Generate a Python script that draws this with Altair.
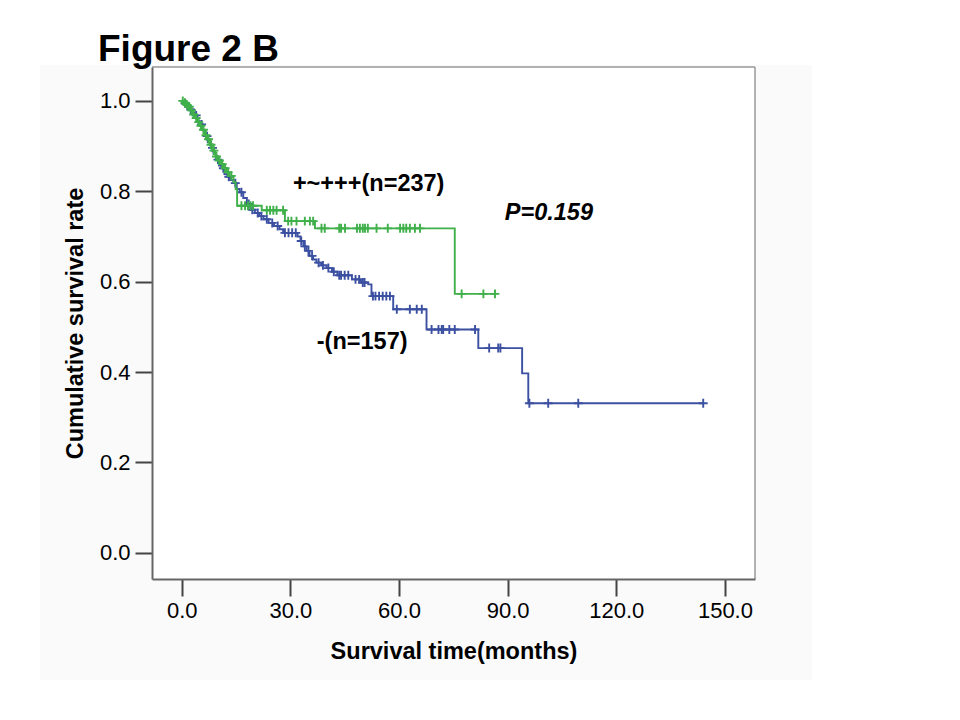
import altair as alt
import pandas as pd

# ---- data (Kaplan-Meier steps) ----
green_t = [0, 0.6, 1.2, 1.8, 2.4, 3.0, 3.7, 4.4, 5.0, 5.6, 6.3, 7.0, 7.8, 8.5, 9.3, 10.0,
           10.8, 11.6, 12.4, 13.2, 14.3, 14.9, 15.3, 22.1, 28.5, 36.8, 75.4, 86.9]
green_s = [1.0, 0.996, 0.991, 0.987, 0.979, 0.970, 0.962, 0.953, 0.945, 0.936, 0.924, 0.915,
           0.903, 0.890, 0.877, 0.868, 0.860, 0.851, 0.842, 0.834, 0.820, 0.805, 0.768, 0.758,
           0.734, 0.718, 0.573, 0.573]
green_cens = [0.3, 0.9, 1.5, 2.1, 2.7, 3.3, 4.0, 4.7, 5.3, 6.0, 6.7, 7.4, 8.1, 8.9, 9.6, 10.4,
              11.2, 12.0, 12.8, 13.7, 16.5, 17.5, 18.3, 19.0, 19.7, 23.5, 24.4, 25.3, 26.2,
              28.0, 29.4, 30.3, 31.7, 34.0, 35.4, 36.3, 38.6, 39.5, 43.5, 44.0, 45.1, 48.4,
              49.2, 50.0, 50.6, 51.4, 53.8, 56.9, 60.3, 61.2, 62.0, 63.0, 64.4, 65.8, 77.3,
              83.3, 86.5]

blue_t = [0, 0.8, 1.5, 2.2, 3.0, 3.6, 4.3, 5.0, 5.8, 6.5, 7.2, 8.0, 8.8, 9.5, 10.3, 11.0,
          11.8, 12.6, 13.4, 14.3, 15.2, 16.0, 17.0, 18.0, 19.0, 20.2, 21.4, 22.6, 24.0, 25.5,
          27.0, 28.0, 32.0, 32.8, 33.6, 34.5, 35.3, 36.3, 37.2, 38.5, 40.0, 41.5, 43.0, 47.0,
          49.5, 51.5, 52.4, 58.4, 67.6, 81.9, 94.0, 95.7, 144.0]
blue_s = [1.0, 0.994, 0.987, 0.981, 0.974, 0.968, 0.955, 0.948, 0.935, 0.922, 0.909, 0.896,
          0.883, 0.870, 0.857, 0.851, 0.838, 0.832, 0.825, 0.818, 0.805, 0.798, 0.785, 0.772,
          0.759, 0.752, 0.745, 0.738, 0.730, 0.723, 0.716, 0.708, 0.700, 0.690, 0.678, 0.668,
          0.657, 0.649, 0.642, 0.636, 0.630, 0.622, 0.614, 0.605, 0.598, 0.594, 0.568, 0.539,
          0.494, 0.453, 0.397, 0.331, 0.331]
blue_cens = [1.0, 2.5, 4.0, 5.5, 7.0, 8.5, 10.0, 11.5, 13.0, 14.8, 16.5, 18.5, 19.5, 21.0,
             22.0, 23.5, 25.0, 26.5, 28.5, 29.5, 30.5, 31.5, 33.0, 34.0, 35.0, 36.0, 37.8,
             39.0, 40.5, 42.0, 43.5, 44.0, 45.0, 46.0, 48.0, 49.0, 50.0, 50.5, 52.8, 53.5,
             54.5, 55.5, 56.5, 57.5, 59.4, 63.0, 64.9, 66.3, 69.0, 70.9, 71.8, 72.2, 73.9,
             75.4, 81.0, 84.9, 87.4, 88.0, 96.0, 101.2, 109.5, 144.0]

x_ticks = [0, 30, 60, 90, 120, 150]
y_ticks = [0.0, 0.2, 0.4, 0.6, 0.8, 1.0]

labels = ["+~+++(n=237)", "-(n=157)"]
label_t = [30.7, 37.3]
label_s = [0.801, 0.450]
p_text = ["P=0.159"]
p_t = [89.2]
p_s = [0.737]

GREEN = "#3fb04a"
BLUE = "#3c50a2"
FONT = "Liberation Sans"


def surv_at(ts, ss, t):
    val = ss[0]
    for ti, si in zip(ts, ss):
        if ti <= t:
            val = si
    return val


green_df = pd.DataFrame({"t": green_t, "s": green_s})
blue_df = pd.DataFrame({"t": blue_t, "s": blue_s})
green_c = pd.DataFrame({"t": green_cens, "s": [surv_at(green_t, green_s, c) for c in green_cens]})
blue_c = pd.DataFrame({"t": blue_cens, "s": [surv_at(blue_t, blue_s, c) for c in blue_cens]})

W, H = 603, 512
xscale = alt.Scale(domain=[-8.2, 158.3], nice=False, zero=False)
yscale = alt.Scale(domain=[-0.058, 1.075], nice=False, zero=False)

xaxis = alt.Axis(values=x_ticks, format=".1f", title="Survival time(months)", grid=False,
                 labelFontSize=22, labelFont=FONT, labelColor="#000", labelPadding=4,
                 tickSize=17, tickWidth=2, tickColor="#444", domainColor="#666", domainWidth=2,
                 titleFont=FONT, titleFontSize=23.5, titleFontWeight="bold", titleColor="#000",
                 titlePadding=18, zindex=1)
yaxis = alt.Axis(values=y_ticks, format=".1f", title="Cumulative survival rate", grid=False,
                 labelFontSize=22, labelFont=FONT, labelColor="#000", labelPadding=5,
                 tickSize=17, tickWidth=2, tickColor="#444", domainColor="#666", domainWidth=2,
                 titleFont=FONT, titleFontSize=23.5, titleFontWeight="bold", titleColor="#000",
                 titlePadding=12, zindex=1)

X = alt.X("t:Q", scale=xscale, axis=xaxis)
Y = alt.Y("s:Q", scale=yscale, axis=yaxis)

one = pd.DataFrame({"a": [0]})

bg = alt.Chart(one).mark_rect(color="#fafafa").encode(
    x=alt.value(-112), x2=alt.value(660), y=alt.value(-2), y2=alt.value(613))
plotbg = alt.Chart(one).mark_rect(color="#ffffff").encode(
    x=alt.value(0), x2=alt.value(W), y=alt.value(0), y2=alt.value(H))
top_rule = alt.Chart(one).mark_rule(color="#999", strokeWidth=1.5).encode(
    x=alt.value(0), x2=alt.value(W), y=alt.value(0))
right_rule = alt.Chart(one).mark_rule(color="#999", strokeWidth=1.5).encode(
    x=alt.value(W), y=alt.value(0), y2=alt.value(H))

cross = "M-1,0L1,0M0,-1L0,1"


def curve(df, color):
    return alt.Chart(df).mark_line(interpolate="step-after", color=color, strokeWidth=1.9).encode(
        x=X, y=Y)


def marks(df, color):
    return alt.Chart(df).mark_point(shape=cross, size=80, color=color, filled=False,
                                    strokeWidth=1.9, opacity=1).encode(x=X, y=Y)


lab_df = pd.DataFrame({"t": label_t, "s": label_s, "txt": labels})
p_df = pd.DataFrame({"t": p_t, "s": p_s, "txt": p_text})

lab = alt.Chart(lab_df).mark_text(font=FONT, fontSize=23.5, fontWeight="bold", align="left",
                                  baseline="alphabetic", color="#000").encode(
    x=X, y=Y, text="txt:N")
ptxt = alt.Chart(p_df).mark_text(font=FONT, fontSize=23.5, fontWeight="bold", fontStyle="italic",
                                 align="left", baseline="alphabetic", color="#000").encode(
    x=X, y=Y, text="txt:N")

title = alt.Chart(one).mark_text(text="Figure 2 B", font=FONT, fontSize=37, fontWeight="bold",
                                 align="left", baseline="alphabetic", color="#000").encode(
    x=alt.value(-54), y=alt.value(-6))

chart = alt.layer(
    bg, plotbg, top_rule, right_rule,
    curve(blue_df, BLUE), marks(blue_c, BLUE),
    curve(green_df, GREEN), marks(green_c, GREEN),
    lab, ptxt, title,
).properties(
    width=W, height=H,
    autosize=alt.AutoSizeParams(type="none"),
    padding={"left": 144, "top": 59, "right": 180, "bottom": 120},
).configure_view(stroke="transparent").configure(background="#ffffff")

chart.save("out.html", embed_options={"renderer": "svg", "actions": False})
